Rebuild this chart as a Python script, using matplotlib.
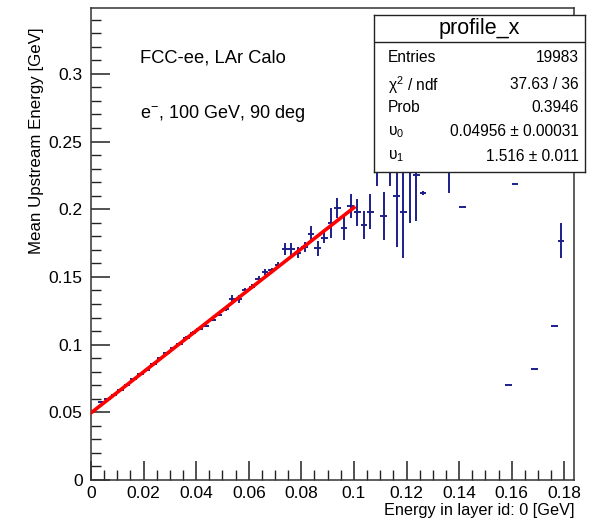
import numpy as np
import matplotlib
matplotlib.use('Agg')
import matplotlib.pyplot as plt
from matplotlib.ticker import MultipleLocator

plt.rcParams['font.family'] = ['Liberation Sans', 'DejaVu Sans']
plt.rcParams['mathtext.fontset'] = 'custom'
plt.rcParams['mathtext.rm'] = 'Liberation Sans'
plt.rcParams['mathtext.it'] = 'Liberation Sans:italic'

# profile bins (bin width 0.0025)
bin_centers = [0.00375, 0.00625, 0.00875, 0.01125, 0.01375, 0.01625, 0.01875, 0.02125,
               0.02375, 0.02625, 0.02875, 0.03125, 0.03375, 0.03625, 0.03875, 0.04125,
               0.04375, 0.04625, 0.04875, 0.05125, 0.05375, 0.05625, 0.05875, 0.06125,
               0.06375, 0.06625, 0.06875, 0.07125, 0.07375, 0.07625, 0.07875, 0.08125,
               0.08375, 0.08625, 0.08875, 0.09125, 0.09375, 0.09625, 0.09875, 0.10125,
               0.10375, 0.10625, 0.10875, 0.11125, 0.11375, 0.11625, 0.11875, 0.12125,
               0.12375, 0.12625, 0.13625, 0.14125, 0.15875, 0.16125, 0.16875, 0.17625,
               0.17875]
mean_energy = [0.0575, 0.0595, 0.0630, 0.0668, 0.0702, 0.0745, 0.0782, 0.0815,
               0.0858, 0.0900, 0.0935, 0.0972, 0.1005, 0.1052, 0.1088, 0.1115,
               0.1140, 0.1185, 0.1222, 0.1262, 0.1338, 0.1336, 0.1400, 0.1428,
               0.1485, 0.1535, 0.1548, 0.1590, 0.1705, 0.1705, 0.1680, 0.1720,
               0.1815, 0.1710, 0.1790, 0.1900, 0.2010, 0.1862, 0.2025, 0.1976,
               0.1883, 0.1983, 0.2350, 0.1950, 0.2400, 0.2097, 0.1976, 0.2300,
               0.2250, 0.2117, 0.2350, 0.2019, 0.0702, 0.2186, 0.0817, 0.1137,
               0.1768]
mean_err = [0.0006, 0.0006, 0.0006, 0.0006, 0.0006, 0.0006, 0.0007, 0.0007,
            0.0007, 0.0008, 0.0008, 0.0008, 0.0009, 0.0009, 0.0010, 0.0010,
            0.0010, 0.0011, 0.0012, 0.0012, 0.0030, 0.0030, 0.0018, 0.0018,
            0.0018, 0.0020, 0.0020, 0.0020, 0.0043, 0.0043, 0.0043, 0.0037,
            0.0060, 0.0055, 0.0040, 0.0110, 0.0075, 0.0086, 0.0090, 0.0098,
            0.0102, 0.0130, 0.0180, 0.0180, 0.0230, 0.0374, 0.0337, 0.0400,
            0.0340, 0.0015, 0.0230, 0.0, 0.0, 0.0, 0.0, 0.0,
            0.0129]
half_bin = 0.00125

# fit result (pol1 on 0 - 0.1)
p0 = 0.04956
p1 = 1.516
fit_range = [0.0, 0.1]

stat_labels = ['Entries', 'χ$^{2}$ / ndf', 'Prob', 'υ$_{0}$', 'υ$_{1}$']
stat_values = ['19983', '37.63 / 36', '0.3946', '0.04956 ± 0.00031', '1.516 ± 0.011']

fig = plt.figure(figsize=(5.92, 5.18), dpi=100)
ax = fig.add_axes([91/592, 38/518, 483/592, 472/518])

ax.errorbar(bin_centers, mean_energy, yerr=mean_err, xerr=half_bin, fmt='none',
            ecolor='#1c1f8a', elinewidth=1.4, capsize=0, zorder=2)

fit_x = np.array(fit_range)
ax.plot(fit_x, p0 + p1 * fit_x, color='#ff0000', lw=2.6, zorder=3)

ax.set_xlim(0, 0.1837)
ax.set_ylim(0, 0.3486)
ax.xaxis.set_minor_locator(MultipleLocator(0.005))
ax.yaxis.set_minor_locator(MultipleLocator(0.01))
ax.set_xticks([0, 0.02, 0.04, 0.06, 0.08, 0.1, 0.12, 0.14, 0.16, 0.18])
ax.set_xticklabels(['0', '0.02', '0.04', '0.06', '0.08', '0.1', '0.12', '0.14', '0.16', '0.18'])
ax.set_yticks([0, 0.05, 0.1, 0.15, 0.2, 0.25, 0.3])
ax.set_yticklabels(['0', '0.05', '0.1', '0.15', '0.2', '0.25', '0.3'])
ax.tick_params(which='both', direction='in', top=False, right=False, labelsize=12.5, color='#222222')
ax.tick_params(which='major', length=14, width=1.1)
ax.tick_params(which='minor', length=7, width=1.0)
ax.tick_params(axis='x', pad=4)
ax.tick_params(axis='y', pad=6)
for s in ax.spines.values():
    s.set_linewidth(1.1)
    s.set_color('#333333')

ax.set_xlabel('Energy in layer id: 0 [GeV]', fontsize=11.7, loc='right', labelpad=2)
ax.set_ylabel('Mean Upstream Energy [GeV]', fontsize=12.2)
ax.yaxis.set_label_coords(-0.097, 0.96, transform=ax.transAxes)
ax.yaxis.label.set_horizontalalignment('right')

ax.text(0.0185, 0.308, 'FCC-ee, LAr Calo', fontsize=13.2)
ax.text(0.0185, 0.267, r'e$^{-}$, 100 GeV, 90 deg', fontsize=13)

# stats box
box = fig.add_axes([374/592, (518-172)/518, 211/592, 157/518], zorder=5)
box.set_xlim(0, 1)
box.set_ylim(0, 1)
box.set_xticks([])
box.set_yticks([])
box.set_facecolor('white')
for s in box.spines.values():
    s.set_linewidth(1.0)
    s.set_color('#222222')
box.axhline(0.828, color='#222222', lw=1.0)
box.text(0.5, 0.912, 'profile_x', ha='center', va='center', fontsize=15.5)
rows_y = [0.732, 0.556, 0.408, 0.255, 0.098]
for lab, val, yy in zip(stat_labels, stat_values, rows_y):
    box.text(0.066, yy, lab, ha='left', va='center', fontsize=11.2)
    box.text(0.972, yy, val, ha='right', va='center', fontsize=11.2)

fig.savefig('out.png', dpi=100)
